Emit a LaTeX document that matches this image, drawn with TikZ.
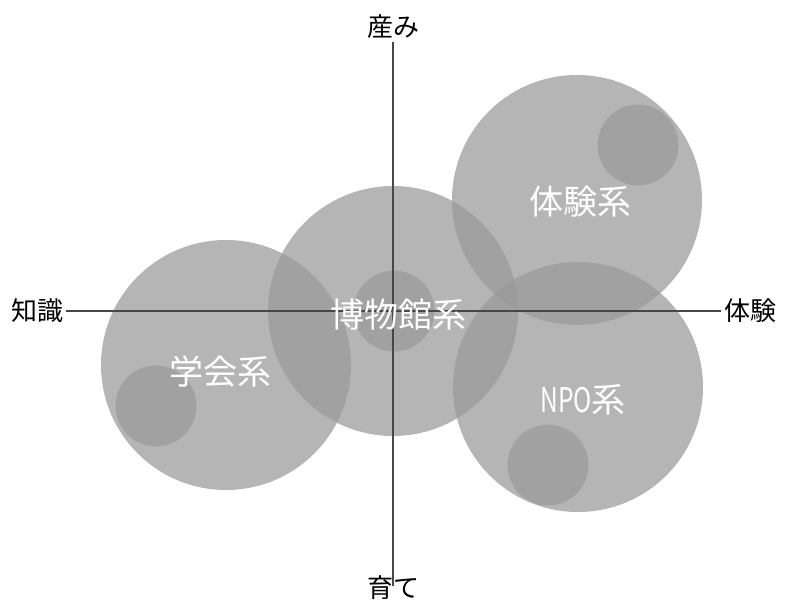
\documentclass[tikz,border=0pt]{standalone}
\usepackage{fontspec}
\usepackage{graphicx}
\newfontfamily\jp{Noto Sans CJK JP}
\begin{document}
\begin{tikzpicture}[x=1pt,y=-1pt,
  bigc/.style={circle,fill=black!40,fill opacity=0.72,minimum size=250pt,inner sep=0pt,draw=none},
  smallc/.style={circle,fill=black!40,fill opacity=0.72,minimum size=81pt,inner sep=0pt,draw=none},
  sys/.style={text=white,font=\jp\fontsize{34}{34}\selectfont,inner sep=0pt},
  ax/.style={text=black,font=\jp\fontsize{26}{26}\selectfont,inner sep=3pt},
  axline/.style={draw=black!72,line width=1.2pt}]
\useasboundingbox (0,0) rectangle (787,601);
% circles
\node[bigc] (cTaiken) at (577,200) {};
\node[smallc] (sTaiken) at (638,145) {};
\node[bigc] (cGakkai) at (226,365) {};
\node[smallc] (sGakkai) at (156,406) {};
\node[bigc] (cHaku) at (393,311) {};
\node[smallc] (sHaku) at (394,311) {};
\node[bigc] (cNPO) at (578,387) {};
\node[smallc] (sNPO) at (548,465) {};
% axis labels
\node[ax] (umi) at (393,27) {産み};
\node[ax] (sodate) at (393,588) {育て};
\node[ax] (chishiki) at (37,311) {知識};
\node[ax] (taikenAx) at (750,311) {体験};
\coordinate (vbot) at (393,586);
\draw[axline] (chishiki.east) -- (taikenAx.west);
\draw[axline] (umi.south) -- (vbot);
% system labels
\node[sys] (tTaiken) at (580,202) {体験系};
\node[sys] (tGakkai) at (220,372) {学会系};
\node[sys] (tHaku) at (398,315) {博物館系};
\node[sys] (tNPO) at (583,400) {\scalebox{0.72}[1]{NPO}系};
\end{tikzpicture}
\end{document}
